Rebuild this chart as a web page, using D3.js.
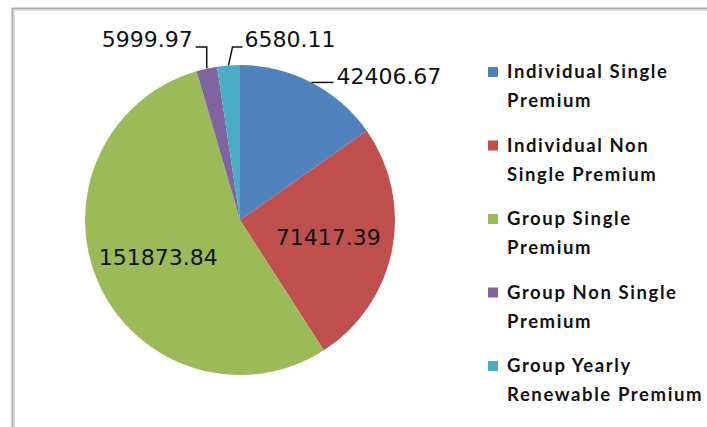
<!DOCTYPE html>
<html lang="en">
<head>
  <meta charset="UTF-8">
  <title>Premium Pie</title>
  <style>
    body {
      margin: 0;
      background: #fff;
      overflow: hidden;
    }
    .num {
      font-family: "Comic Sans MS", "DejaVu Sans", sans-serif;
      font-size: 22px;
      fill: #111;
    }
    .leg {
      font-family: "Comic Sans MS", "Lato", sans-serif;
      font-size: 18.5px;
      font-weight: bold;
      letter-spacing: 1.6px;
      fill: #111;
    }
  </style>
</head>
<body>
  <svg width="707" height="427"></svg>

  <script src="https://d3js.org/d3.v7.min.js"></script>
  <script>
    // data
    const categories = [
      "Individual Single Premium",
      "Individual Non Single Premium",
      "Group Single Premium",
      "Group Non Single Premium",
      "Group Yearly Renewable Premium"
    ];
    const values = [42406.67, 71417.39, 151873.84, 5999.97, 6580.11];
    const valueLabels = ["42406.67", "71417.39", "151873.84", "5999.97", "6580.11"];
    // legend text split the way it wraps in the original
    const legendLines = [
      ["Individual Single", "Premium"],
      ["Individual Non", "Single Premium"],
      ["Group Single", "Premium"],
      ["Group Non Single", "Premium"],
      ["Group Yearly", "Renewable Premium"]
    ];
    const colors = ["#4f81bd", "#c0504d", "#9bbb59", "#8064a2", "#4bacc6"];

    const svg = d3.select("svg");
    const cx = 240, cy = 220, r = 155;

    // frame (only top and left edges are visible in the crop)
    svg.append("path").attr("d", "M12.5,427V8.5H707")
      .attr("fill", "none").attr("stroke", "#a9a9a9").attr("stroke-width", 2);
    svg.append("path").attr("d", "M14.5,427V10.5H707")
      .attr("fill", "none").attr("stroke", "#dcdcdc").attr("stroke-width", 1);

    const color = d3.scaleOrdinal().domain(categories).range(colors);

    const pie = d3.pie().sort(null).value(d => d.value);
    const arcs = pie(categories.map((c, i) => ({ name: c, value: values[i], label: valueLabels[i] })));
    const arc = d3.arc().innerRadius(0).outerRadius(r);

    const g = svg.append("g").attr("transform", `translate(${cx},${cy})`);

    g.selectAll("path.slice")
      .data(arcs)
      .join("path")
      .attr("class", "slice")
      .attr("d", arc)
      .attr("fill", d => color(d.data.name));

    const mid = d => (d.startAngle + d.endAngle) / 2;
    const edge = d => [Math.sin(mid(d)) * r, -Math.cos(mid(d)) * r];

    // large slices: label inside
    const inside = arcs.filter(d => d.endAngle - d.startAngle > 1);
    const labelArc = d3.arc().innerRadius(r * 0.58).outerRadius(r * 0.58);
    g.selectAll("text.in")
      .data(inside)
      .join("text")
      .attr("class", "num")
      .attr("text-anchor", "middle")
      .attr("dy", "0.35em")
      .attr("transform", d => `translate(${labelArc.centroid(d)})`)
      .text(d => d.data.label);

    // small slices: label outside with leader lines
    const outside = arcs.filter(d => d.endAngle - d.startAngle <= 1);
    const topY = -r - 18;
    outside.forEach(d => {
      const [ex, ey] = edge(d);
      const a = mid(d);
      let pts, tx, ty, anchor;
      if (a < Math.PI) {
        // right side: short horizontal run from the rim
        pts = [[ex, ey], [ex + 22, ey]];
        tx = ex + 25; ty = ey - 6; anchor = "start";
      } else if (a > Math.PI * 2 - 0.1) {
        pts = [[ex, ey], [ex + 4, topY], [ex + 14, topY]];
        tx = ex + 16; ty = topY - 8; anchor = "start";
      } else {
        pts = [[ex, ey], [ex, topY], [ex - 11, topY]];
        tx = ex - 14; ty = topY - 8; anchor = "end";
      }
      g.append("path")
        .attr("d", d3.line()(pts))
        .attr("fill", "none")
        .attr("stroke", "#111")
        .attr("stroke-width", 1.5);
      g.append("text")
        .attr("class", "num")
        .attr("x", tx).attr("y", ty)
        .attr("dy", "0.35em")
        .attr("text-anchor", anchor)
        .text(d.data.label);
    });

    // legend
    const legY = d3.scaleLinear().domain([0, categories.length - 1]).range([72, 366]);
    const leg = svg.append("g");
    const item = leg.selectAll("g")
      .data(categories)
      .join("g")
      .attr("transform", (d, i) => `translate(488,${legY(i)})`);
    item.append("rect")
      .attr("x", 0).attr("y", -5)
      .attr("width", 10).attr("height", 10)
      .attr("fill", d => color(d));
    item.each(function(d, i) {
      const el = d3.select(this);
      legendLines[i].forEach((line, k) => {
        el.append("text")
          .attr("class", "leg")
          .attr("x", 19)
          .attr("y", k * 29)
          .attr("dy", "0.35em")
          .text(line);
      });
    });
  </script>
</body>
</html>
